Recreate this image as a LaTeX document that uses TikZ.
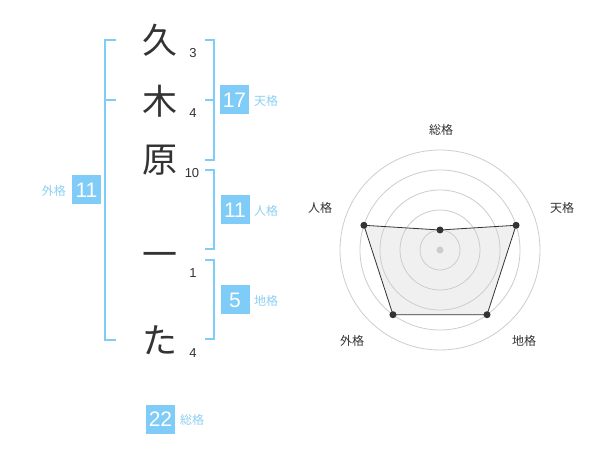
\documentclass[tikz,border=0pt]{standalone}
\usepackage{fontspec}
\setmainfont{Liberation Sans}
\newfontfamily\jp{Noto Sans CJK JP}
\definecolor{bl}{RGB}{128,204,248}
\definecolor{bltxt}{RGB}{140,208,245}
\definecolor{ink}{RGB}{51,51,51}
\definecolor{gridc}{RGB}{205,205,205}
\definecolor{areac}{RGB}{240,240,240}
\begin{document}
\begin{tikzpicture}[x=1pt,y=-1pt,
  kanji/.style={font=\jp\fontsize{35}{35}\selectfont, text=ink, inner sep=0},
  strk/.style={font=\fontsize{13}{13}\selectfont, text=ink, inner sep=0},
  numbox/.style={fill=bl, text=white, minimum width=29, minimum height=29, inner sep=0, font=\fontsize{21}{21}\selectfont},
  kaku/.style={font=\jp\fontsize{12}{12}\selectfont, text=bltxt, inner sep=0},
  rlabel/.style={font=\jp\fontsize{12}{12}\selectfont, text=ink, inner sep=0},
  brk/.style={draw=bl, line width=2},
  ring/.style={draw=gridc, line width=0.8},
  dot/.style={circle, fill=ink, inner sep=0, minimum size=7}]
\useasboundingbox (0,0) rectangle (600,470);
\fill[white] (0,0) rectangle (600,470);

% characters
\node[kanji] (c1) at (160,40) {久};
\node[kanji] (c2) at (160,101) {木};
\node[kanji] (c3) at (160,160) {原};
\node[kanji] (c4) at (160,260) {一};
\node[kanji] (c5) at (160,340) {た};

% stroke counts
\node[strk] (s1) at (193,53) {3};
\node[strk] (s2) at (193,113) {4};
\node[strk] (s3) at (192,173) {10};
\node[strk] (s4) at (193,273) {1};
\node[strk] (s5) at (193,353) {4};

% brackets
\draw[brk] (116,40) -- (105,40) -- (105,340) -- (116,340);
\draw[brk] (105,100) -- (116,100);
\draw[brk] (205,40) -- (214,40) -- (214,160) -- (205,160);
\draw[brk] (205,100) -- (214,100);
\draw[brk] (205,170) -- (214,170) -- (214,249) -- (205,249);
\draw[brk] (205,260) -- (214,260) -- (214,339) -- (205,339);

% score boxes
\node[numbox] (ten) at (234.5,100) {17};
\node[kaku, anchor=west] (tenl) at (254,100.5) {天格};
\node[numbox] (jin) at (235,210) {11};
\node[kaku, anchor=west] (jinl) at (254,210.5) {人格};
\node[numbox] (chi) at (235,300) {5};
\node[kaku, anchor=west] (chil) at (254,300.5) {地格};
\node[numbox] (gai) at (86.5,190) {11};
\node[kaku, anchor=east] (gail) at (66,190.5) {外格};
\node[numbox] (sou) at (160.5,419) {22};
\node[kaku, anchor=west] (soul) at (180,419.5) {総格};

% radar
\begin{scope}[shift={(440,250)}, y=1pt]
  \coordinate (p1) at (90:20);
  \coordinate (p2) at (18:80);
  \coordinate (p3) at (-54:80);
  \coordinate (p4) at (-126:80);
  \coordinate (p5) at (162:80);
  \fill[areac] (p1) -- (p2) -- (p3) -- (p4) -- (p5) -- cycle;
  \foreach \r in {20,40,60,80,100} \draw[ring] (0,0) circle (\r);
  \fill[gridc] (0,0) circle (3.5);
  \draw[draw=ink, line width=0.8] (p1) -- (p2) -- (p3) -- (p4) -- (p5) -- cycle;
  \foreach \p in {p1,p2,p3,p4,p5} \node[dot] at (\p) {};
\end{scope}
\node[rlabel] (r1) at (441,130) {総格};
\node[rlabel] (r2) at (562,208) {天格};
\node[rlabel] (r3) at (524,341) {地格};
\node[rlabel] (r4) at (352,341) {外格};
\node[rlabel] (r5) at (320,208) {人格};
\end{tikzpicture}
\end{document}
